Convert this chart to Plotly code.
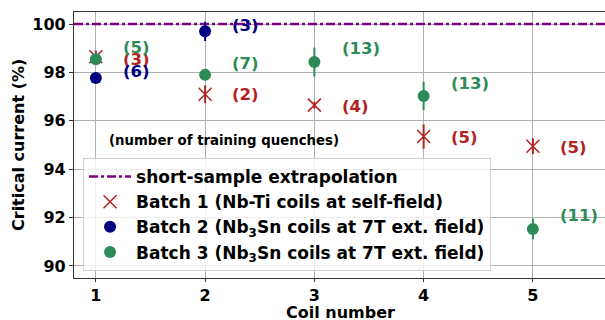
import plotly.graph_objects as go

coils = [1, 2, 3, 4, 5]

# Batch 1 (Nb-Ti, self-field)
b1_x = [1, 2, 3, 4, 5]
b1_y = [98.65, 97.1, 96.65, 95.35, 94.95]
b1_err = [0.25, 0.37, 0.15, 0.5, 0.33]
b1_q = ["(3)", "(2)", "(4)", "(5)", "(5)"]
b1_ly = [98.55, 97.1, 96.6, 95.29, 94.88]

# Batch 2 (Nb3Sn, 7T)
b2_x = [1, 2]
b2_y = [97.77, 99.7]
b2_err = [0.1, 0.4]
b2_q = ["(6)", "(3)"]
b2_ly = [98.02, 99.96]

# Batch 3 (Nb3Sn, 7T)
b3_x = [1, 2, 3, 4, 5]
b3_y = [98.55, 97.9, 98.43, 97.03, 91.53]
b3_err = [0.2, 0.2, 0.6, 0.58, 0.43]
b3_q = ["(5)", "(7)", "(13)", "(13)", "(11)"]
b3_ly = [99.05, 98.39, 99.0, 97.56, 92.07]

yticks = [90, 92, 94, 96, 98, 100]
short_sample = 100.0
label_dx = 0.23

RED = "#b22222"
NAVY = "#000080"
GREEN = "#2e8b57"
PURPLE = "#800080"
FONT = "DejaVu Sans"

fig = go.Figure()

fig.add_trace(go.Scatter(
    x=[0.8, 5.66], y=[short_sample, short_sample], mode="lines",
    line=dict(color=PURPLE, width=2.5, dash="dashdot"),
    name="short-sample extrapolation"))

fig.add_trace(go.Scatter(
    x=b1_x, y=b1_y, mode="markers", name="Batch 1 (Nb-Ti coils at self-field)",
    marker=dict(symbol="x-thin", size=13, line=dict(color=RED, width=1.5), color=RED),
    error_y=dict(type="data", array=b1_err, color=RED, thickness=2, width=0)))

fig.add_trace(go.Scatter(
    x=b2_x, y=b2_y, mode="markers", name="Batch 2 (Nb<sub>3</sub>Sn coils at 7T ext. field)",
    marker=dict(symbol="circle", size=12, color=NAVY),
    error_y=dict(type="data", array=b2_err, color=NAVY, thickness=2, width=0)))

fig.add_trace(go.Scatter(
    x=b3_x, y=b3_y, mode="markers", name="Batch 3 (Nb<sub>3</sub>Sn coils at 7T ext. field)",
    marker=dict(symbol="circle", size=12, color=GREEN),
    error_y=dict(type="data", array=b3_err, color=GREEN, thickness=2, width=0)))

annotations = []
for xs, ls, qs, col in [(b1_x, b1_ly, b1_q, RED), (b2_x, b2_ly, b2_q, NAVY), (b3_x, b3_ly, b3_q, GREEN)]:
    for x, y, q in zip(xs, ls, qs):
        annotations.append(dict(x=x + label_dx, y=y, text="<b>%s</b>" % q, showarrow=False,
                                xanchor="left", yanchor="middle",
                                font=dict(family=FONT, size=16.5, color=col)))
annotations.append(dict(x=1.1, y=95.2, text="<b>(number of training quenches)</b>", showarrow=False,
                        xanchor="left", yanchor="middle",
                        font=dict(family=FONT, size=13.3, color="black")))
annotations.append(dict(xref="paper", yref="paper", x=(18 - 74) / 531, y=0.5,
                        text="<b>Critical current (%)</b>", showarrow=False, textangle=-90,
                        xanchor="center", yanchor="middle",
                        font=dict(family=FONT, size=16, color="black")))
annotations.append(dict(xref="paper", yref="paper", x=(340 - 74) / 531, y=(278 - 312) / 266,
                        text="<b>Coil number</b>", showarrow=False,
                        xanchor="center", yanchor="middle",
                        font=dict(family=FONT, size=16, color="black")))

fig.update_layout(
    width=605, height=320,
    margin=dict(l=74, r=0, t=12, b=42),
    paper_bgcolor="white", plot_bgcolor="white",
    font=dict(family=FONT, size=16, color="black"),
    annotations=annotations,
    showlegend=True,
    legend=dict(x=0.017, y=0.451, xanchor="left", yanchor="top",
                bgcolor="rgba(255,255,255,0.8)", bordercolor="#d0d0d0", borderwidth=1,
                font=dict(family=FONT, size=17, color="black", weight="bold"),
                tracegroupgap=0, itemwidth=42),
    xaxis=dict(range=[0.8, 5.66], tickvals=coils, ticktext=["<b>%d</b>" % c for c in coils],
               showgrid=True, gridcolor="#b0b0b0", gridwidth=1,
               showline=True, linecolor="#333333", linewidth=1.2, mirror=True,
               ticks="outside", ticklen=3, tickcolor="#333333", zeroline=False, automargin=False,
               tickfont=dict(size=16)),
    yaxis=dict(range=[89.5, 100.5], tickvals=yticks,
               ticktext=["<b>%d</b>" % v for v in yticks],
               showgrid=True, gridcolor="#b0b0b0", gridwidth=1,
               showline=True, linecolor="#333333", linewidth=1.2, mirror=True,
               ticks="outside", ticklen=4, tickcolor="#333333", zeroline=False, automargin=False,
               tickfont=dict(size=16)),
)

fig.write_html("out.html", config={"displayModeBar": False},
               post_script="document.body.style.margin='0';document.body.style.overflow='hidden';")
